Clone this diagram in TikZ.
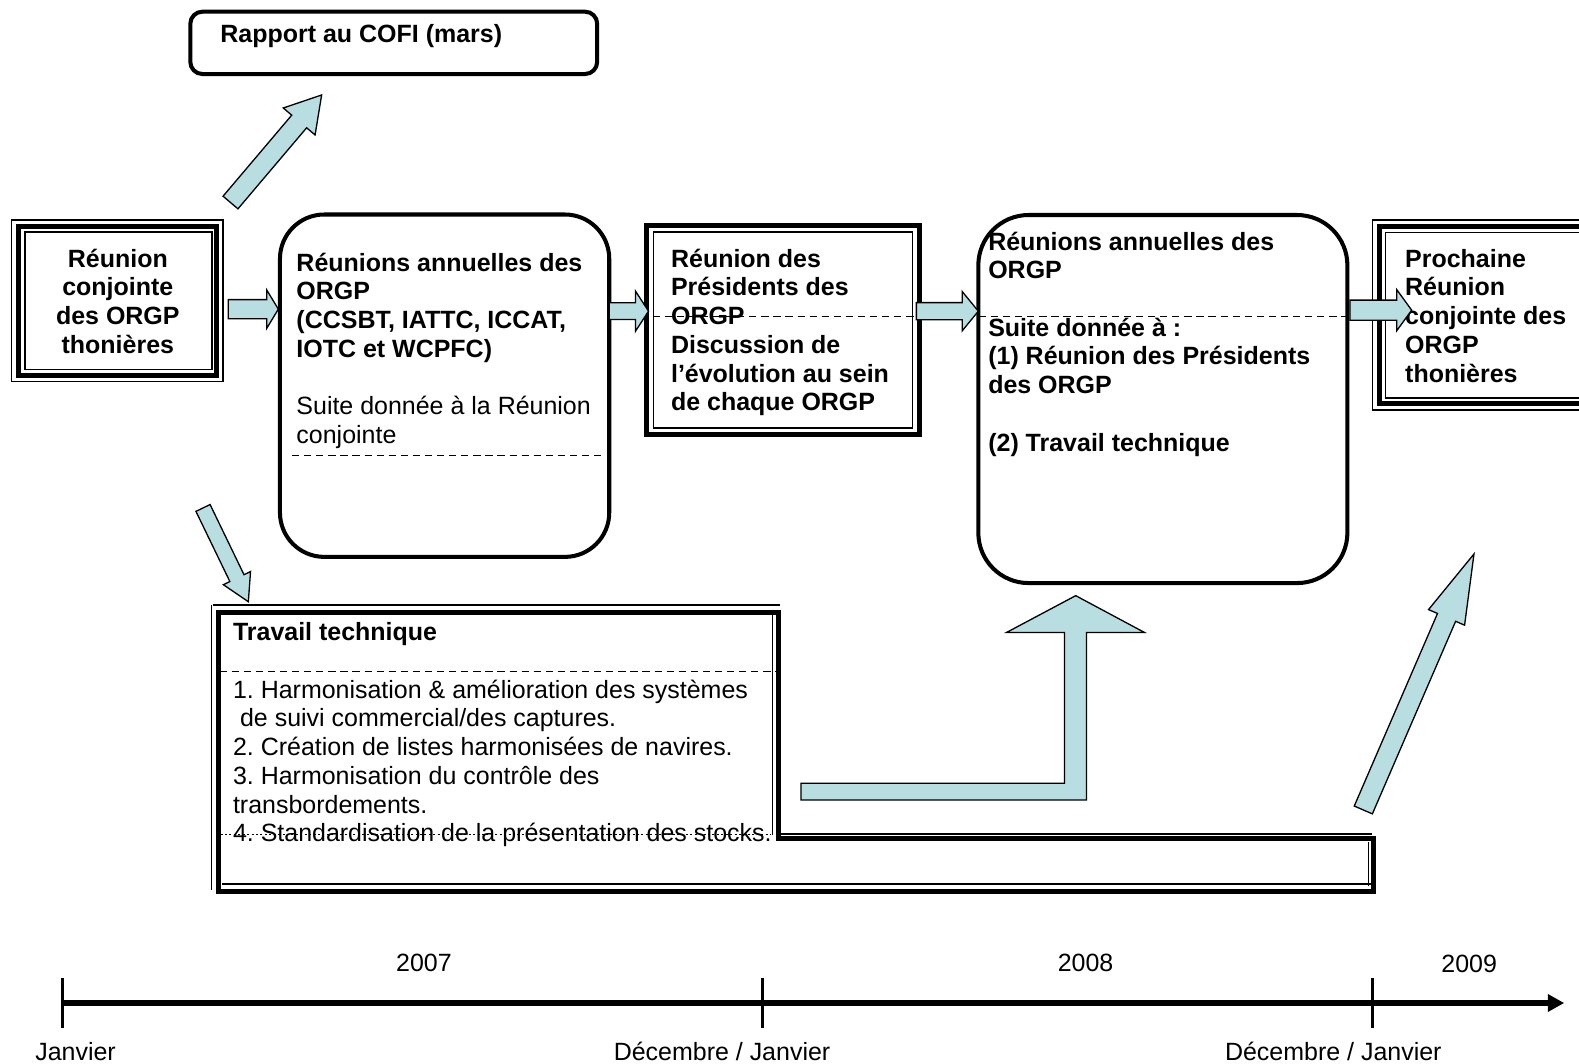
\documentclass[tikz,border=0pt]{standalone}
\usepackage{fontspec}
\setmainfont{Liberation Sans}
\usetikzlibrary{calc}
\frenchspacing
\definecolor{arrowfill}{HTML}{B8DEE2}
\newcommand{\fs}{\fontsize{12.4pt}{14.25pt}\selectfont}
\newcommand{\blockarrow}[5]{%
  \path ($(#2)!#5!(#1)$) coordinate (bah);
  \draw[blockar] ($(#1)!#3!90:(#2)$) -- ($(bah)!#3!90:(#2)$) -- ($(bah)!#4!90:(#2)$) -- (#2)
    -- ($(bah)!#4!-90:(#2)$) -- ($(bah)!#3!-90:(#2)$) -- ($(#1)!#3!-90:(#2)$) -- cycle;
}
\tikzset{
  boxtxt/.style={inner sep=0pt, anchor=north west, align=left, font=\fs\bfseries},
  ctxt/.style={inner sep=0pt, anchor=north, align=center, font=\fs\bfseries},
  rbox/.style={line width=2pt, rounded corners=#1},
  thickln/.style={line width=2.5pt, line join=miter},
  thinln/.style={line width=0.8pt},
  sepline/.style={line width=0.6pt, dash pattern=on 3.6pt off 2.4pt},
  blockar/.style={draw=black, line width=0.65pt, fill=arrowfill, line join=miter},
  tl/.style={inner sep=0pt, font=\fs},
}
\begin{document}
\begin{tikzpicture}[x=0.5pt,y=-0.5pt]
\useasboundingbox (0,0) rectangle (1568,1056);
\fill[white] (0,0) rectangle (1568,1056);
\clip (0,0) rectangle (1568,1056);

% Rapport au COFI
\draw[rbox=6pt] (189,11.6) rectangle (593,73.5);
\node[boxtxt] (rapport) at (218.5,22) {\strut Rapport au COFI (mars)};

% Left box: Reunion conjointe
\draw[thinln] (11.6,218.5) rectangle (221.4,379);
\draw[thickln] (18.2,225) rectangle (215.2,372.5);
\draw[thinln] (24.8,230.5) rectangle (210.4,367);
\node[ctxt] (conj) at (117,245) {\strut Réunion\\conjointe\\des ORGP\\thonières};

% Box 1: Reunions annuelles
\draw[rbox=22pt] (278,213) rectangle (605,553);
\node[boxtxt] (ra1) at (294,249) {\strut Réunions annuelles des\\ORGP\\(CCSBT, IATTC, ICCAT,\\IOTC et WCPFC)\\[14.25pt]\mdseries Suite donnée à la Réunion\\\mdseries conjointe};
\draw[sepline] (290,452.5) -- (598,452.5);

% Presidents box
\draw[thickln] (642,224) rectangle (913,431);
\draw[thinln] (649,230.5) rectangle (906,425);
\node[boxtxt] (pres) at (666,245) {\strut Réunion des\\Présidents des\\ORGP\\Discussion de\\l’évolution au sein\\de chaque ORGP};

% Box 2
\draw[rbox=25pt] (971.5,213.5) rectangle (1338,579);
\node[boxtxt] (ra2) at (981,228) {\strut Réunions annuelles des\\ORGP\\[14.25pt]Suite donnée à~:\\(1) Réunion des Présidents\\des ORGP\\[14.25pt](2) Travail technique};

\draw[sepline] (648,314.5) -- (1338,314.5);

% Prochaine reunion
\draw[thinln] (1363,218.5) rectangle (1620,407);
\draw[thickln] (1369.5,225) rectangle (1614,400.5);
\draw[thinln] (1376,231) rectangle (1608,395);
\node[boxtxt] (proch) at (1395,245) {\strut Prochaine\\Réunion\\conjointe des\\ORGP\\thonières};

% Travail technique
\draw[thickln] (217,608) -- (773,608) -- (773,833) -- (1364,833) -- (1364,885) -- (217,885) -- cycle;
\draw[thinln] (212,601) -- (775,601);
\draw[thinln] (210,601) -- (210,884);
\draw[thinln] (767,611) -- (767,829);
\draw[thinln] (776,828) -- (1362,828);
\draw[thinln] (1359,836) -- (1359,880);
\draw[thinln] (220,878) -- (1361,878);
\node[boxtxt] (trav) at (231,616) {\strut Travail technique\\[14.25pt]
 \mdseries 1. Harmonisation \& amélioration des systèmes\\
 \mdseries\hspace{3.5pt}de suivi commercial/des captures.\\
 \mdseries 2. Création de listes harmonisées de navires.\\
 \mdseries 3. Harmonisation du contrôle des\\
 \mdseries transbordements.\\
 \mdseries 4. Standardisation de la présentation des stocks.};
\draw[sepline] (218,667) -- (773,667);
\draw[line width=0.5pt, dash pattern=on 1pt off 1.2pt] (219,829) -- (766,829);

% Block arrows
\coordinate (a1s) at (228.9,201.1); \coordinate (a1e) at (319.4,94.3);
\blockarrow{a1s}{a1e}{4.85pt}{10.35pt}{17.25pt}
\coordinate (a2s) at (201.6,504.4); \coordinate (a2e) at (246.6,597.5);
\blockarrow{a2s}{a2e}{3.9pt}{7.5pt}{13pt}
\coordinate (a3s) at (226.7,307); \coordinate (a3e) at (276.4,307);
\blockarrow{a3s}{a3e}{4.75pt}{9.5pt}{5.75pt}
\coordinate (a4s) at (605,309); \coordinate (a4e) at (644,309);
\blockarrow{a4s}{a4e}{4.15pt}{10pt}{6.5pt}
\coordinate (a5s) at (910,309); \coordinate (a5e) at (971.5,309);
\blockarrow{a5s}{a5e}{4.25pt}{9.75pt}{8pt}
\coordinate (a6s) at (1340.6,308); \coordinate (a6e) at (1401.8,308);
\blockarrow{a6s}{a6e}{5pt}{10.2pt}{7.4pt}
\coordinate (a7s) at (1353.8,804.3); \coordinate (a7e) at (1463.7,550.1);
\blockarrow{a7s}{a7e}{4.9pt}{9.75pt}{34.3pt}

% L-shaped arrow
\coordinate (ltip) at (1068.2,591.5);
\draw[blockar] (795.4,777.8) -- (1057,777.8) -- (1057,628) -- (999.6,628) -- (ltip)
  -- (1136.4,628) -- (1079,628) -- (1079,794.4) -- (795.4,794.4) -- cycle;

% Timeline
\coordinate (t0) at (62,996); \coordinate (tend) at (1553,996);
\draw[line width=3pt] (t0) -- (1540,996);
\fill (1537,987) -- (tend) -- (1537,1005) -- cycle;
\draw[line width=1.75pt] (62,971) -- (62,1021);
\draw[line width=1.75pt] (757,971) -- (757,1021);
\draw[line width=1.75pt] (1363,971) -- (1363,1021);
\node[tl] (y7) at (421,956) {2007};
\node[tl] (y8) at (1078,956) {2008};
\node[tl] (y9) at (1459,957) {2009};
\node[tl] (jan) at (75,1044) {Janvier};
\node[tl] (dj1) at (717,1044) {Décembre / Janvier};
\node[tl] (dj2) at (1324,1044) {Décembre / Janvier};
\end{tikzpicture}
\end{document}
